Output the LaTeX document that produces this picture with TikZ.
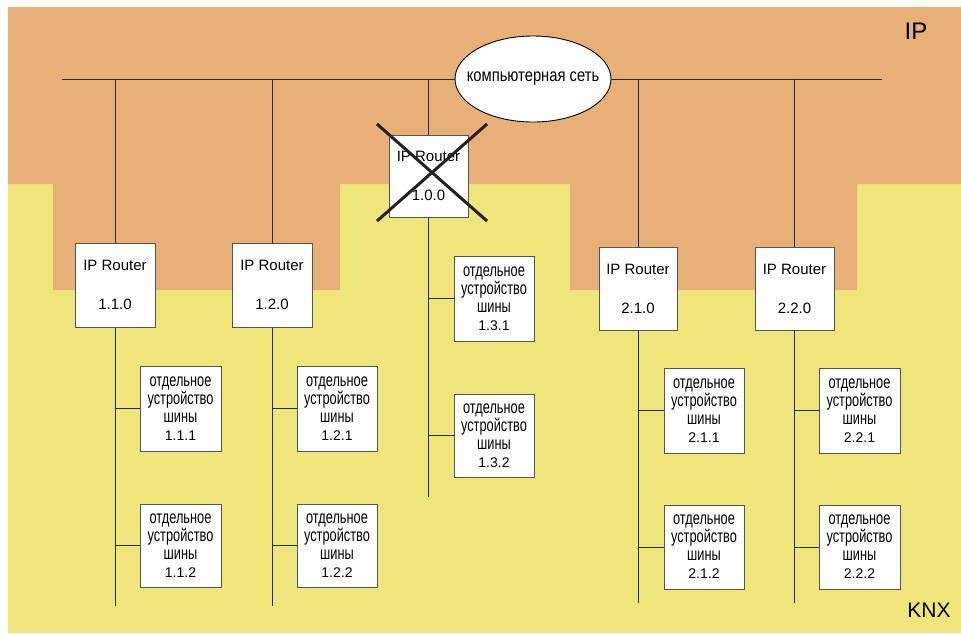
\documentclass[tikz,border=0pt]{standalone}
\usepackage{fontspec}
\setmainfont{Liberation Sans}
\newfontfamily\narrowfont[FakeStretch=0.71]{Liberation Sans}
\newfontfamily\cloudfont[FakeStretch=0.82]{Liberation Sans}
\usetikzlibrary{shapes.geometric}
\definecolor{ipbg}{HTML}{E7B077}
\definecolor{knxbg}{HTML}{EEE67A}
\definecolor{boxline}{HTML}{555555}
\definecolor{wirec}{HTML}{2A2A2A}
\newcommand\numfont{\normalfont\fontsize{14}{18}\selectfont}
\newcommand\devtext[1]{отдельное\\устройство\\шины\\{\numfont #1}}
\tikzset{
  router/.style={draw=boxline, fill=white, line width=1pt, minimum width=80pt, minimum height=84pt, inner sep=0pt, align=center, font=\fontsize{15}{18}\selectfont},
  device/.style={draw=boxline, fill=white, line width=1pt, minimum width=81pt, minimum height=85pt, inner sep=0pt, align=center, font=\narrowfont\fontsize{18}{18}\selectfont},
  wire/.style={draw=wirec, line width=1pt},
  cross/.style={draw=wirec!80!black, line width=3pt}
}
\begin{document}
\begin{tikzpicture}[x=1pt,y=-1pt]
\useasboundingbox (0,0) rectangle (961,633);
\fill[white] (0,0) rectangle (961,633);
\fill[knxbg] (8,7) rectangle (961,633);
\fill[ipbg] (8,7) -- (961,7) -- (961,184) -- (857,184) -- (857,290) -- (570,290) -- (570,184) -- (340,184) -- (340,290) -- (53,290) -- (53,184) -- (8,184) -- cycle;

% bus and cloud
\coordinate (busL) at (62,79);
\coordinate (busR) at (882,79);
\node[draw=black, fill=white, ellipse, line width=0.9pt, minimum width=156pt, minimum height=86pt, inner sep=0pt, font=\cloudfont\fontsize{18}{18}\selectfont] (cloud) at (533,79) {\makebox[0pt]{компьютерная сеть}};
\draw[wire] (busL) -- (cloud.west);
\draw[wire] (cloud.east) -- (busR);

% routers
\node[router] (r110) at (115,285) {IP Router\\[21pt]1.1.0};
\node[router] (r120) at (272,285) {IP Router\\[21pt]1.2.0};
\node[router, minimum width=79pt, minimum height=82pt] (r100) at (428.5,176) {IP Router\\[21pt]1.0.0};
\node[router, minimum width=78pt, minimum height=83pt] (r210) at (638,288.5) {IP Router\\[21pt]2.1.0};
\node[router, minimum width=79pt, minimum height=83pt] (r220) at (794.5,288.5) {IP Router\\[21pt]2.2.0};

% devices
\node[device] (d111) at (180.5,408.5) {\devtext{1.1.1}};
\node[device, minimum height=83pt] (d112) at (180.5,545.5) {\devtext{1.1.2}};
\node[device, minimum width=80pt] (d121) at (337,408.5) {\devtext{1.2.1}};
\node[device, minimum width=80pt, minimum height=83pt] (d122) at (337,545.5) {\devtext{1.2.2}};
\node[device, minimum width=80pt] (d131) at (494,298.5) {\devtext{1.3.1}};
\node[device, minimum width=80pt, minimum height=83pt] (d132) at (494,435.5) {\devtext{1.3.2}};
\node[device, minimum width=80pt] (d211) at (704,410.5) {\devtext{2.1.1}};
\node[device, minimum width=80pt, minimum height=84pt] (d212) at (704,547) {\devtext{2.1.2}};
\node[device, minimum width=81pt] (d221) at (859.5,410.5) {\devtext{2.2.1}};
\node[device, minimum width=81pt, minimum height=84pt] (d222) at (859.5,547) {\devtext{2.2.2}};

% line ends
\coordinate (e11) at (115,606);
\coordinate (e12) at (272,606);
\coordinate (e13) at (428.5,497);
\coordinate (e21) at (638,603);
\coordinate (e22) at (794.5,603);

% drops from bus
\foreach \r in {r110,r120,r100,r210,r220}
  \draw[wire] (\r.north |- busL) -- (\r.north);
% lines
\draw[wire] (r110.south) -- (e11);
\draw[wire] (r120.south) -- (e12);
\draw[wire] (r100.south) -- (e13);
\draw[wire] (r210.south) -- (e21);
\draw[wire] (r220.south) -- (e22);
\draw[wire] (d111.west) -- (d111.west -| e11);
\draw[wire] (d112.west) -- (d112.west -| e11);
\draw[wire] (d121.west) -- (d121.west -| e12);
\draw[wire] (d122.west) -- (d122.west -| e12);
\draw[wire] (d131.west) -- (d131.west -| e13);
\draw[wire] (d132.west) -- (d132.west -| e13);
\draw[wire] (d211.west) -- (d211.west -| e21);
\draw[wire] (d212.west) -- (d212.west -| e21);
\draw[wire] (d221.west) -- (d221.west -| e22);
\draw[wire] (d222.west) -- (d222.west -| e22);

% cross over router 1.0.0
\draw[cross] (377,124) -- (487,221);
\draw[cross] (377,221) -- (487,124);

% area labels
\node[font=\fontsize{24}{24}\selectfont, inner sep=0pt] (iplabel) at (916,31.5) {IP};
\node[font=\fontsize{21}{21}\selectfont, inner sep=0pt] (knxlabel) at (929,610.5) {KNX};
\end{tikzpicture}
\end{document}
